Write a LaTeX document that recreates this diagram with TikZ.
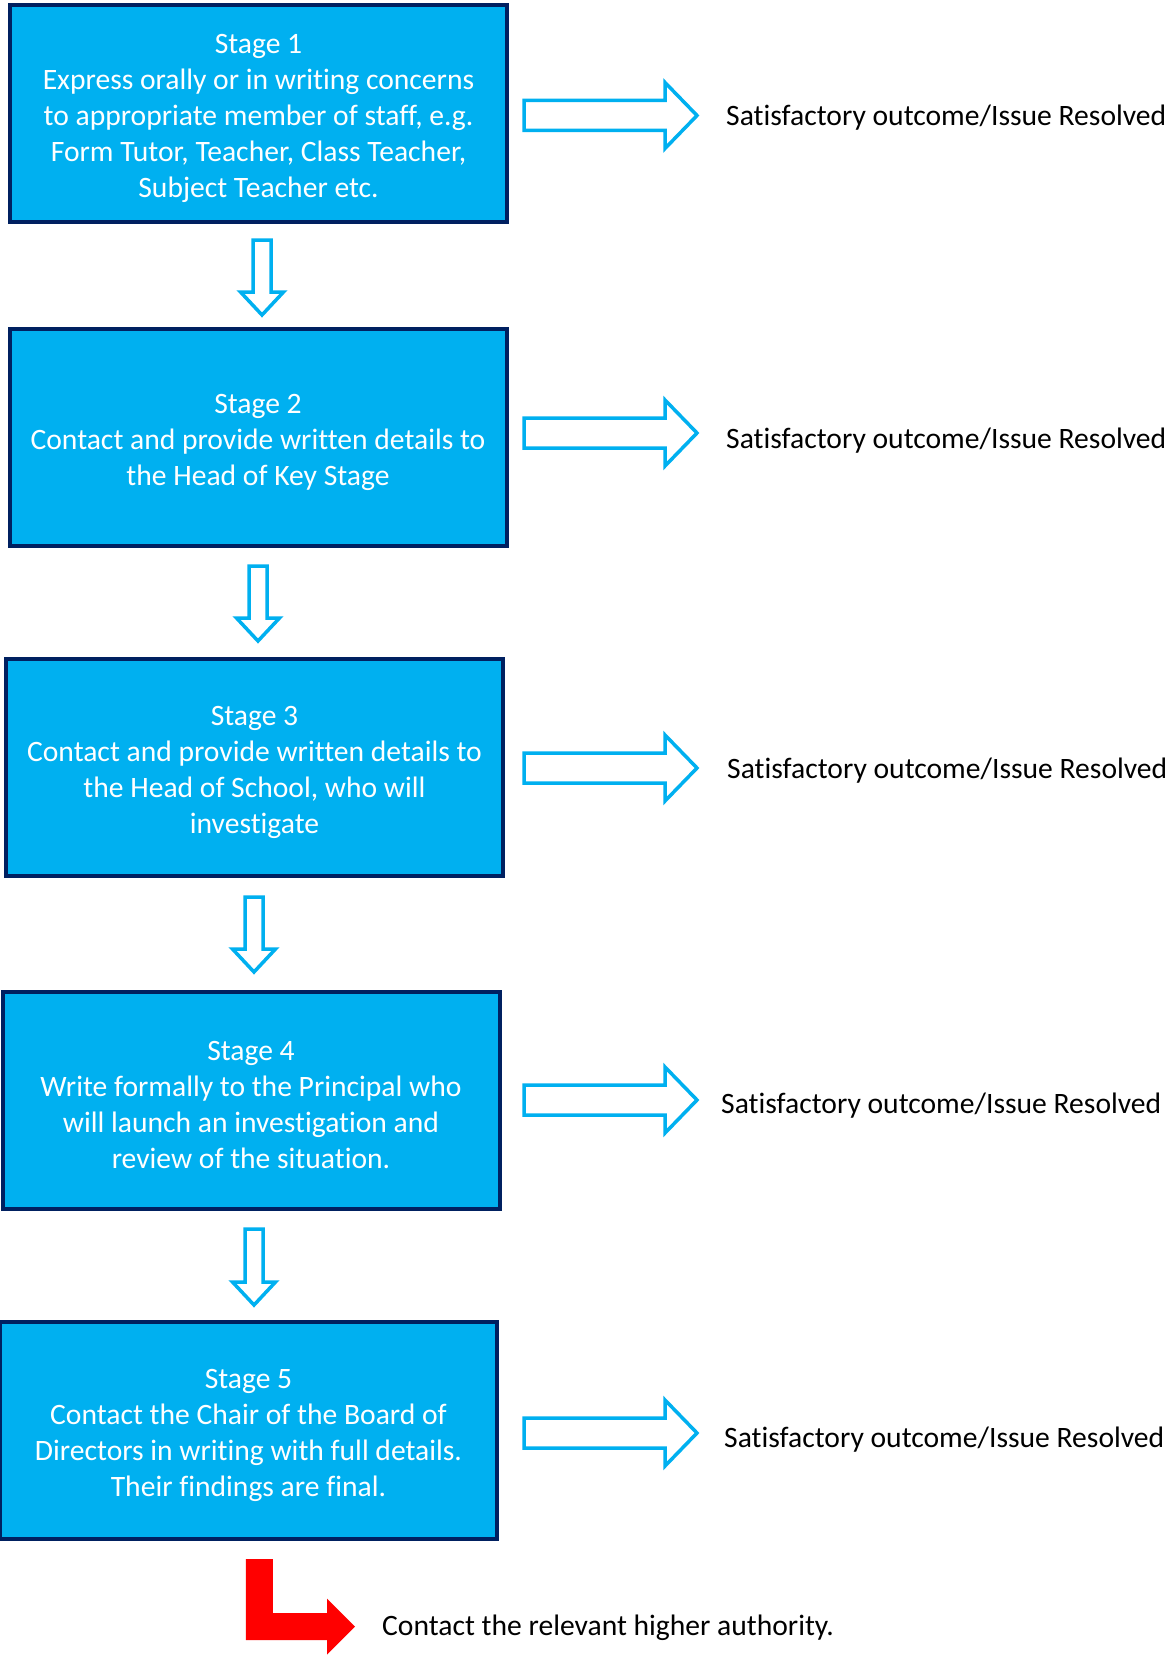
\documentclass[tikz,border=0pt]{standalone}
\usepackage{fontspec}
\setmainfont{Carlito}[Ligatures=NoCommon]
\definecolor{boxfill}{HTML}{00B0F0}
\definecolor{boxline}{HTML}{002060}
\definecolor{arrred}{HTML}{FF0000}
\tikzset{
 stagebox/.style={draw=boxline, line width=4pt, fill=boxfill, text=white, align=center,
   minimum width=497pt, minimum height=217pt, inner sep=0pt, font=\fontsize{29.6}{36}\selectfont},
 hollow/.style={draw=boxfill, fill=white, line width=3.5pt, line join=miter},
 outcome/.style={anchor=west, font=\fontsize{29.6}{34}\selectfont, inner sep=0pt},
}
\newcommand\myTop{\rule{0pt}{28.5pt}}
\newcommand\myDownArrow[3]{%
  \draw[hollow] ({#1-9},#2) -- ({#1+9},#2) -- ({#1+9},{#3-23}) -- ({#1+21.5},{#3-23})
    -- (#1,#3) -- ({#1-21.5},{#3-23}) -- ({#1-9},{#3-23}) -- cycle;}
\newcommand\myRightArrow[1]{%
  \draw[hollow] (524,{#1-15}) -- (665,{#1-15}) -- (665,{#1-33}) -- (697,#1)
    -- (665,{#1+33}) -- (665,{#1+15}) -- (524,{#1+15}) -- cycle;}
\begin{document}
\begin{tikzpicture}[x=1pt,y=-1pt]
\useasboundingbox[fill=white] (0,0) rectangle (1164,1656);

\node[stagebox] (s1) at (258.5,113.5) {\myTop Stage 1\\Express orally or in writing concerns\\to appropriate member of staff, e.g.\\Form Tutor, Teacher, Class Teacher,\\Subject Teacher etc.};
\node[stagebox] (s2) at (258,437.5) {\myTop Stage 2\\Contact and provide written details to\\the Head of Key Stage};
\node[stagebox] (s3) at (254.5,767.5) {\myTop Stage 3\\Contact and provide written details to\\the Head of School, who will\\investigate};
\node[stagebox] (s4) at (251,1100.5) {\myTop Stage 4\\Write formally to the Principal who\\will launch an investigation and\\review of the situation.};
\node[stagebox] (s5) at (248.5,1430.5) {\myTop Stage 5\\Contact the Chair of the Board of\\Directors in writing with full details.\\Their findings are final.};

\myDownArrow{262}{240}{315}
\myDownArrow{258}{566}{641}
\myDownArrow{254}{897}{972}
\myDownArrow{254}{1229}{1305}

\myRightArrow{115.5}
\myRightArrow{433}
\myRightArrow{768}
\myRightArrow{1100}
\myRightArrow{1433}

\node[outcome] (o1) at (726,118) {Satisfactory outcome/Issue Resolved};
\node[outcome] (o2) at (726,441) {Satisfactory outcome/Issue Resolved};
\node[outcome] (o3) at (727,771) {Satisfactory outcome/Issue Resolved};
\node[outcome] (o4) at (721,1106) {Satisfactory outcome/Issue Resolved};
\node[outcome] (o5) at (724,1440) {Satisfactory outcome/Issue Resolved};

\fill[arrred] (245.8,1559) -- (272.9,1559) -- (272.9,1613) -- (327,1613) -- (327,1598.5)
  -- (355,1626.5) -- (327,1654.5) -- (327,1640) -- (245.8,1640) -- cycle;
\node[outcome] (final) at (382,1628) {Contact the relevant higher authority.};
\end{tikzpicture}
\end{document}
